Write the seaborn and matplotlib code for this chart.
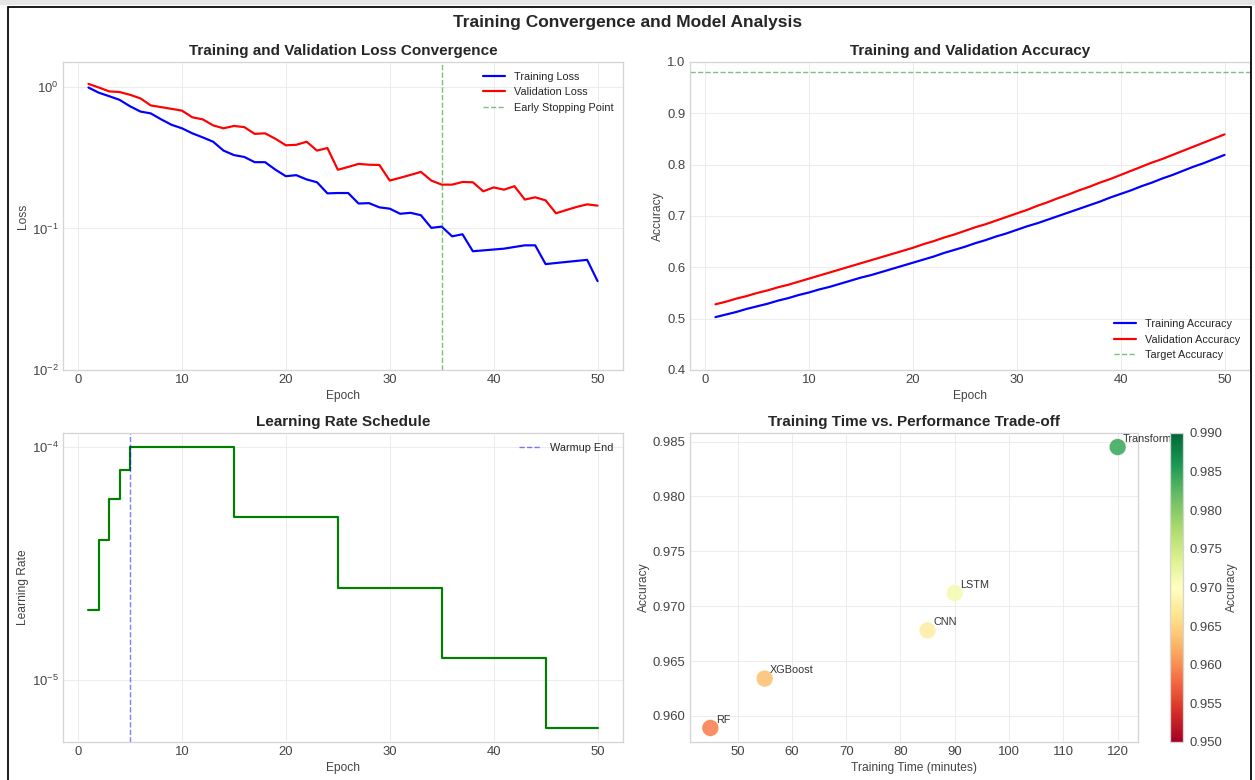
import numpy as np
import pandas as pd
import matplotlib
matplotlib.use("Agg")
import matplotlib.pyplot as plt
import seaborn as sns
from matplotlib.patches import Rectangle
from matplotlib.cm import ScalarMappable
from matplotlib.colors import Normalize

# ---------------- data ----------------
epochs = list(range(1, 51))

train_loss = [0.99, 0.91, 0.86, 0.81, 0.73, 0.67, 0.65, 0.59, 0.54, 0.51,
              0.47, 0.44, 0.41, 0.355, 0.33, 0.32, 0.294, 0.294, 0.26, 0.234,
              0.238, 0.222, 0.212, 0.177, 0.178, 0.178, 0.150, 0.151, 0.141, 0.138,
              0.127, 0.129, 0.124, 0.101, 0.103, 0.088, 0.091, 0.069, 0.070, 0.071,
              0.072, 0.074, 0.076, 0.076, 0.056, 0.057, 0.058, 0.059, 0.060, 0.0425]

val_loss = [1.05, 0.99, 0.93, 0.92, 0.88, 0.83, 0.74, 0.72, 0.70, 0.68,
            0.61, 0.59, 0.535, 0.51, 0.53, 0.52, 0.466, 0.47, 0.43, 0.387,
            0.39, 0.41, 0.355, 0.37, 0.26, 0.272, 0.286, 0.282, 0.281, 0.218,
            0.228, 0.239, 0.251, 0.218, 0.204, 0.204, 0.213, 0.212, 0.183, 0.195,
            0.188, 0.199, 0.160, 0.166, 0.158, 0.128, 0.135, 0.142, 0.148, 0.145]

train_acc = [0.503, 0.508, 0.513, 0.519, 0.524, 0.529, 0.535, 0.540, 0.546, 0.551,
             0.557, 0.562, 0.568, 0.574, 0.580, 0.585, 0.591, 0.597, 0.603, 0.609,
             0.615, 0.621, 0.628, 0.634, 0.640, 0.647, 0.653, 0.660, 0.666, 0.673,
             0.680, 0.686, 0.693, 0.700, 0.707, 0.714, 0.721, 0.728, 0.736, 0.743,
             0.750, 0.758, 0.765, 0.773, 0.780, 0.788, 0.796, 0.803, 0.811, 0.819]

val_acc = [0.528, 0.533, 0.539, 0.544, 0.550, 0.555, 0.561, 0.566, 0.572, 0.578,
           0.584, 0.590, 0.596, 0.602, 0.608, 0.614, 0.620, 0.626, 0.632, 0.638,
           0.645, 0.651, 0.658, 0.664, 0.671, 0.678, 0.684, 0.691, 0.698, 0.705,
           0.712, 0.720, 0.727, 0.735, 0.742, 0.750, 0.757, 0.765, 0.772, 0.780,
           0.788, 0.796, 0.804, 0.811, 0.819, 0.827, 0.835, 0.843, 0.851, 0.859]

learning_rate = ([2e-5, 4e-5, 6e-5, 8e-5] + [1e-4] * 10 + [5e-5] * 10 +
                 [2.5e-5] * 10 + [1.25e-5] * 10 + [6.25e-6] * 6)

early_stop_epoch = 35
warmup_end_epoch = 5
target_accuracy = 0.98

models = ["RF", "XGBoost", "CNN", "LSTM", "Transformer"]
train_time = [45, 55, 85, 90, 120]
model_acc = [0.9589, 0.9634, 0.9678, 0.9712, 0.9845]

# ---------------- style ----------------
sns.set_theme(style="whitegrid")
plt.rcParams["font.family"] = ["Liberation Sans", "DejaVu Sans"]
plt.rcParams.update({
    "axes.edgecolor": "#d5d5d5",
    "axes.linewidth": 1.2,
    "grid.color": "#ececec",
    "grid.linewidth": 0.9,
    "xtick.labelsize": 12,
    "ytick.labelsize": 12,
    "xtick.major.size": 0,
    "ytick.major.size": 0,
    "xtick.minor.size": 0,
    "ytick.minor.size": 0,
    "xtick.major.pad": 4,
    "ytick.major.pad": 4,
    "axes.labelsize": 11,
    "axes.labelpad": 3,
    "legend.fontsize": 10,
    "axes.titlesize": 14,
    "axes.titlepad": 6,
    "text.color": "#262626",
    "axes.labelcolor": "#444444",
    "xtick.color": "#444444",
    "ytick.color": "#444444",
})

W, H = 1255, 780
DPI = 78.44
fig = plt.figure(figsize=(W / DPI, H / DPI), dpi=DPI)

def pos(l, t, r, b):
    return [l / W, 1 - b / H, (r - l) / W, (b - t) / H]

ax1 = fig.add_axes(pos(63, 62, 623, 370))
ax2 = fig.add_axes(pos(690, 62, 1250, 370))
ax3 = fig.add_axes(pos(63, 433, 623, 742))
ax4 = fig.add_axes(pos(690, 433, 1138, 742))
cax = fig.add_axes(pos(1170, 433, 1183, 742))

df = pd.DataFrame({"epoch": epochs, "train_loss": train_loss, "val_loss": val_loss,
                   "train_acc": train_acc, "val_acc": val_acc, "lr": learning_rate})

# ---- loss ----
sns.lineplot(data=df, x="epoch", y="train_loss", ax=ax1, color="blue", lw=2, label="Training Loss")
sns.lineplot(data=df, x="epoch", y="val_loss", ax=ax1, color="red", lw=2, label="Validation Loss")
ax1.axvline(early_stop_epoch, color="green", ls="--", lw=1.3, alpha=0.5, label="Early Stopping Point")
ax1.set_yscale("log")
ax1.set_ylim(0.01, 1.5)
ax1.set_xlabel("Epoch")
ax1.set_ylabel("Loss")
ax1.set_title("Training and Validation Loss Convergence", fontweight="bold")
ax1.legend(loc="upper right", frameon=False)

# ---- accuracy ----
sns.lineplot(data=df, x="epoch", y="train_acc", ax=ax2, color="blue", lw=2, label="Training Accuracy")
sns.lineplot(data=df, x="epoch", y="val_acc", ax=ax2, color="red", lw=2, label="Validation Accuracy")
ax2.axhline(target_accuracy, color="green", ls="--", lw=1.3, alpha=0.5, label="Target Accuracy")
ax2.set_ylim(0.4, 1.0)
ax2.set_xlabel("Epoch")
ax2.set_ylabel("Accuracy")
ax2.set_title("Training and Validation Accuracy", fontweight="bold")
ax2.legend(loc="lower right", frameon=False)

# ---- learning rate ----
sns.lineplot(data=df, x="epoch", y="lr", ax=ax3, color="green", lw=2, drawstyle="steps-post")
ax3.axvline(warmup_end_epoch, color="blue", ls="--", lw=1.3, alpha=0.5, label="Warmup End")
ax3.set_yscale("log")
ax3.set_xlabel("Epoch")
ax3.set_ylabel("Learning Rate")
ax3.set_title("Learning Rate Schedule", fontweight="bold")
ax3.legend(loc="upper right", frameon=False)

# ---- trade-off scatter ----
mdf = pd.DataFrame({"model": models, "time": train_time, "acc": model_acc})
norm = Normalize(vmin=0.95, vmax=0.99)
sns.scatterplot(data=mdf, x="time", y="acc", hue="acc", palette="RdYlGn", hue_norm=norm,
                s=240, alpha=0.85, edgecolor="white", linewidth=0.5, legend=False, ax=ax4)
for m, t, a in zip(models, train_time, model_acc):
    ax4.annotate(m, (t, a), xytext=(5, 5), textcoords="offset points", fontsize=10,
                 color="#333333")
ax4.set_xlabel("Training Time (minutes)")
ax4.set_ylabel("Accuracy")
ax4.set_title("Training Time vs. Performance Trade-off", fontweight="bold")
sm = ScalarMappable(norm=norm, cmap="RdYlGn")
cb = fig.colorbar(sm, cax=cax)
cb.set_label("Accuracy", color="#444444", fontsize=11)
cb.outline.set_edgecolor("#d5d5d5")
cax.tick_params(labelsize=12, length=0, pad=6)

fig.suptitle("Training Convergence and Model Analysis", fontsize=16, fontweight="bold",
             y=1 - 22 / H, va="center")

# frame border like the reference
fig.add_artist(Rectangle((0, 1 - 5 / H), 1, 5 / H, transform=fig.transFigure,
                         facecolor="#e6e6e6", edgecolor="none"))
fig.add_artist(Rectangle((8 / W, -0.05), (1251 - 8) / W, 1 - 7 / H + 0.05,
                         transform=fig.transFigure, fill=False, edgecolor="black", lw=1.6))

fig.savefig("out.png", dpi=DPI)
